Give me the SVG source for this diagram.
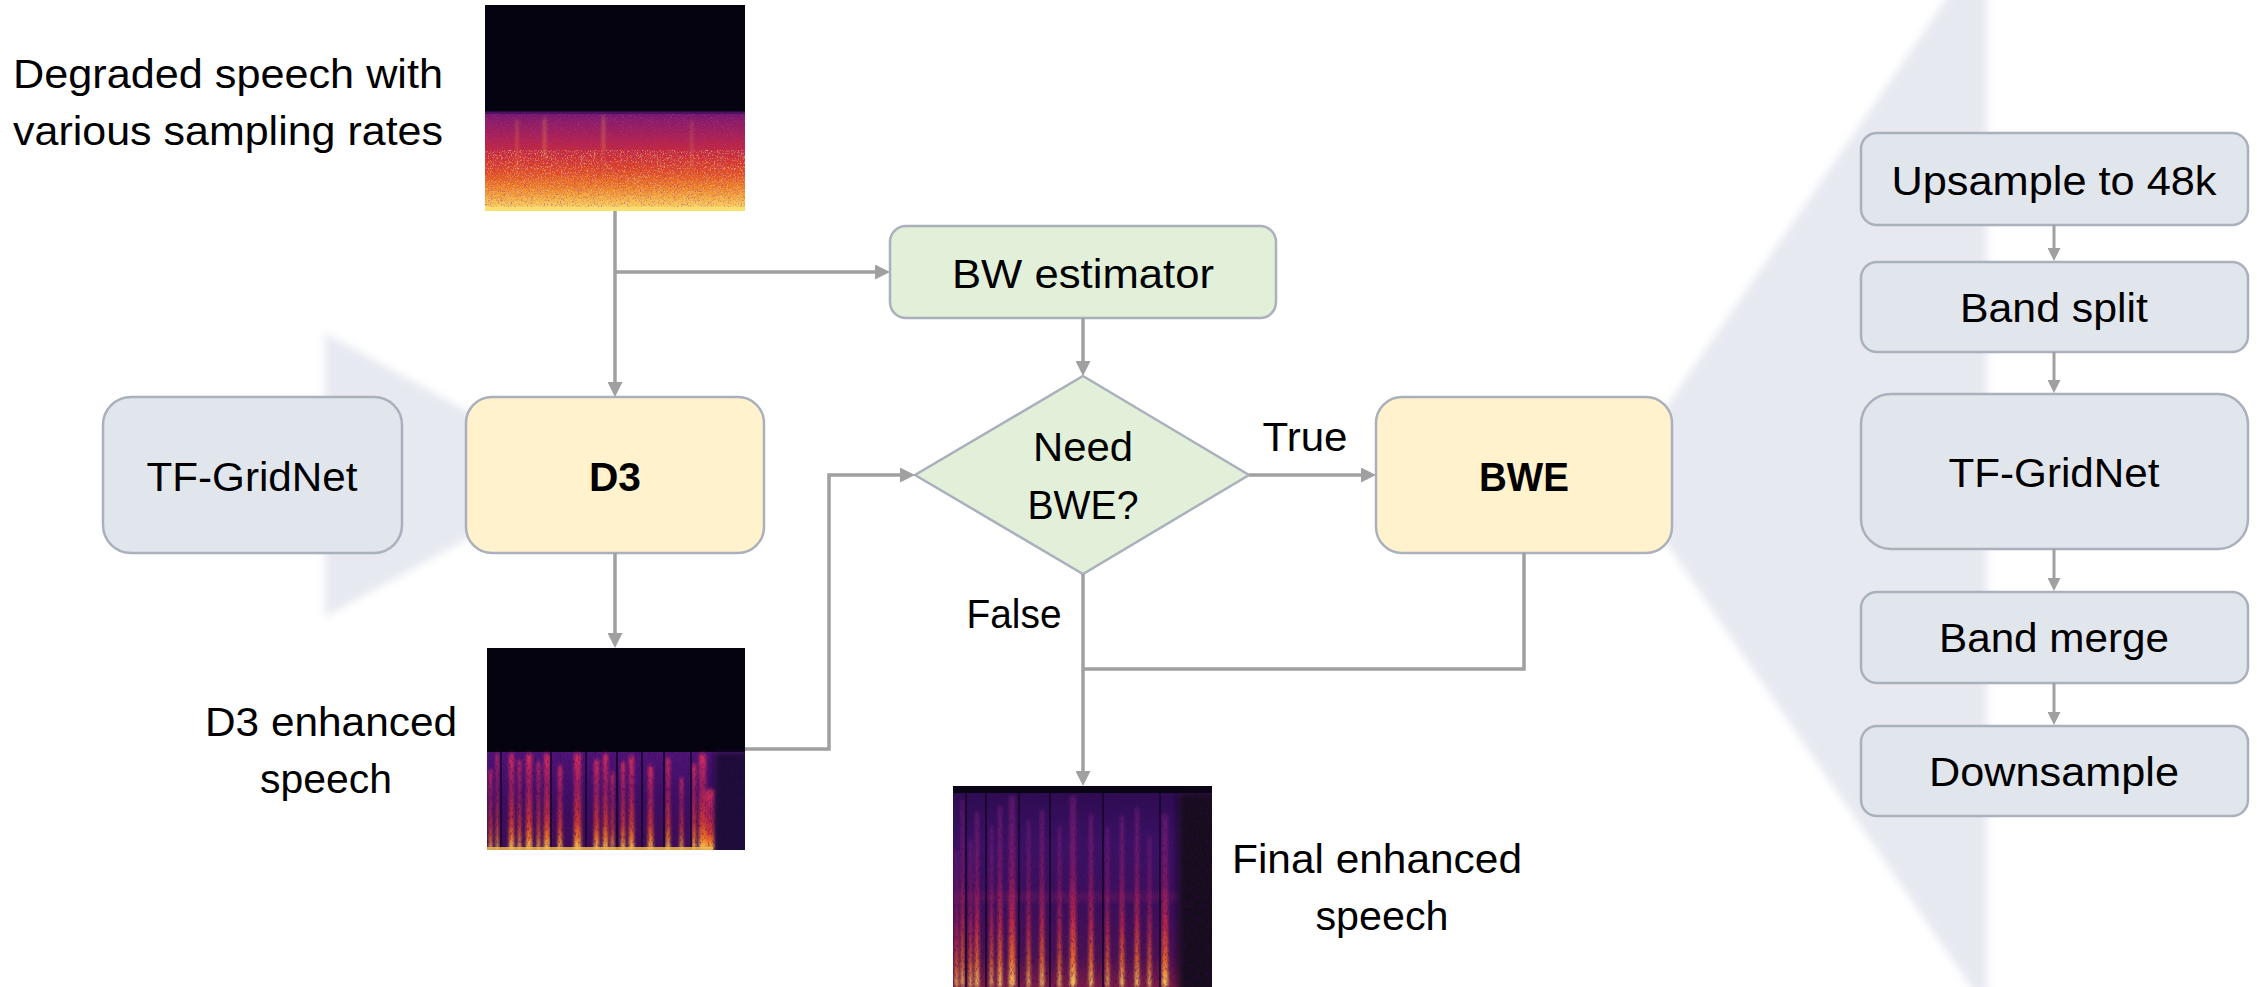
<svg xmlns="http://www.w3.org/2000/svg" width="2264" height="987" viewBox="0 0 2264 987">
  <style>
    .t { font-family: "Liberation Sans", Arial, sans-serif; font-size: 41px; fill: #000; }
    .b { font-weight: bold; }
    .conn { fill: none; stroke: #a0a0a0; stroke-width: 3.5; }
    .connS { fill: none; stroke: #a0a0a0; stroke-width: 3; }
    .grey { fill: #e1e5ec; stroke: #aab1bd; stroke-width: 2.5; }
    .gold { fill: #fff2cc; stroke: #aab1bd; stroke-width: 2.5; }
    .green { fill: #e2efd9; stroke: #aab1bd; stroke-width: 2.5; }
    .funnel { fill: #e6e9f0; }
  </style>
  <defs>
    <marker id="arr" markerUnits="userSpaceOnUse" viewBox="0 0 15 15" markerWidth="15" markerHeight="15" refX="9" refY="7.5" orient="auto">
      <path d="M0,0 L15,7.5 L0,15 z" fill="#a0a0a0"/>
    </marker>
    <marker id="arrS" markerUnits="userSpaceOnUse" viewBox="0 0 13 13" markerWidth="13" markerHeight="13" refX="8" refY="6.5" orient="auto">
      <path d="M0,0 L13,6.5 L0,13 z" fill="#a0a0a0"/>
    </marker>
    <clipPath id="cIn"><rect x="485" y="5" width="260" height="206"/></clipPath>
    <clipPath id="cD3"><rect x="487" y="648" width="258" height="202"/></clipPath>
    <clipPath id="cFin"><rect x="953" y="786" width="259" height="201"/></clipPath>
    <filter id="soft" x="-10%" y="-10%" width="120%" height="120%">
      <feGaussianBlur stdDeviation="4"/>
    </filter>
    <filter id="smear" x="-50%" y="-5%" width="200%" height="110%">
      <feGaussianBlur stdDeviation="1.4 2"/>
    </filter>
    <filter id="haze" x="-20%" y="-20%" width="140%" height="140%">
      <feGaussianBlur stdDeviation="3 3"/>
    </filter>
    <!-- speckle texture for spectrogram surfaces -->
    <filter id="grainDark" x="0" y="0" width="1" height="1">
      <feTurbulence type="fractalNoise" baseFrequency="1.3 0.7" numOctaves="2" seed="4"/>
      <feColorMatrix type="matrix" values="0 0 0 0 0.35  0 0 0 0 0.04  0 0 0 0 0.3  2.2 0 0 0 -1.15"/>
    </filter>
    <filter id="grainLight" x="0" y="0" width="1" height="1">
      <feTurbulence type="fractalNoise" baseFrequency="1.3 0.6" numOctaves="2" seed="11"/>
      <feColorMatrix type="matrix" values="0 0 0 0 1  0 0 0 0 0.78  0 0 0 0 0.35  2.4 0 0 0 -1.2"/>
    </filter>
    <filter id="grainSoft" x="0" y="0" width="1" height="1">
      <feTurbulence type="fractalNoise" baseFrequency="0.6 0.25" numOctaves="2" seed="21"/>
      <feColorMatrix type="matrix" values="0 0 0 0 0.05  0 0 0 0 0.0  0 0 0 0 0.1  1.6 0 0 0 -0.8"/>
    </filter>
    <linearGradient id="gTop" x1="0" y1="0" x2="0" y2="1">
      <stop offset="0" stop-color="#701672"/>
      <stop offset="0.1" stop-color="#8c1c66"/>
      <stop offset="0.28" stop-color="#b02250"/>
      <stop offset="0.45" stop-color="#cc2c34"/>
      <stop offset="0.6" stop-color="#e04822"/>
      <stop offset="0.75" stop-color="#ee7a22"/>
      <stop offset="0.9" stop-color="#f7b846"/>
      <stop offset="1" stop-color="#fde272"/>
    </linearGradient>
    <linearGradient id="gD3" x1="0" y1="0" x2="0" y2="1">
      <stop offset="0" stop-color="#4e1476"/>
      <stop offset="0.5" stop-color="#3c0f62"/>
      <stop offset="1" stop-color="#400d56"/>
    </linearGradient>
    <linearGradient id="gStreak" x1="0" y1="0" x2="0" y2="1">
      <stop offset="0" stop-color="#e0305a" stop-opacity="0.95"/>
      <stop offset="0.35" stop-color="#c0245a" stop-opacity="0.7"/>
      <stop offset="0.7" stop-color="#d83a30" stop-opacity="0.9"/>
      <stop offset="0.88" stop-color="#f07a24"/>
      <stop offset="1" stop-color="#fcd462"/>
    </linearGradient>
    <linearGradient id="gFinal" x1="0" y1="0" x2="0" y2="1">
      <stop offset="0" stop-color="#8a2082" stop-opacity="0.45"/>
      <stop offset="0.4" stop-color="#a82064" stop-opacity="0.6"/>
      <stop offset="0.65" stop-color="#cc2c46" stop-opacity="0.9"/>
      <stop offset="0.85" stop-color="#ea682a"/>
      <stop offset="1" stop-color="#fcd060"/>
    </linearGradient>
    <linearGradient id="gFinalBase" x1="0" y1="0" x2="0" y2="1">
      <stop offset="0" stop-color="#2c0c50"/>
      <stop offset="0.3" stop-color="#3a1264"/>
      <stop offset="0.6" stop-color="#3a105a"/>
      <stop offset="0.85" stop-color="#4a1252"/>
      <stop offset="1" stop-color="#7a1c44"/>
    </linearGradient>
  </defs>

  <!-- zoom funnels behind the model boxes -->
  <g id="funnels">
    <polygon class="funnel" points="325,333 480,418 480,532 325,617" filter="url(#soft)"/>
    <polygon class="funnel" points="1660,416 1987,-60 1987,1010 1660,534" filter="url(#soft)"/>
  </g>

  <!-- input spectrogram -->
  <g id="spec-input" clip-path="url(#cIn)">
    <rect x="485" y="5" width="260" height="206" fill="#050310"/>
    <rect x="485" y="112" width="260" height="99" fill="url(#gTop)"/>
    <rect x="485" y="112" width="260" height="99" filter="url(#grainDark)"/>
    <rect x="485" y="150" width="260" height="61" filter="url(#grainLight)" opacity="0.75"/>
    <g fill="#f6a848" opacity="0.35" filter="url(#smear)">
      <rect x="516" y="120" width="2" height="55"/>
      <rect x="543" y="118" width="3" height="40"/>
      <rect x="602" y="116" width="3" height="36"/>
      <rect x="691" y="120" width="1.5" height="60"/>
    </g>
    <rect x="485" y="207" width="260" height="4" fill="#fbe070"/>
    <rect x="485" y="111" width="260" height="3" fill="#3a0f58" opacity="0.7"/>
  </g>

  <!-- D3 output spectrogram -->
  <g id="spec-d3" clip-path="url(#cD3)">
    <rect x="487" y="648" width="258" height="202" fill="#050310"/>
    <rect x="487" y="752" width="258" height="98" fill="url(#gD3)"/>
    <rect x="714" y="752" width="40" height="110" fill="#1e0a38" filter="url(#haze)"/>
    <g fill="url(#gStreak)" filter="url(#smear)">
      <rect x="489" y="770" width="3" height="80"/>
      <rect x="496" y="754" width="2.5" height="96"/>
      <rect x="509" y="754" width="5" height="96"/>
      <rect x="518" y="760" width="3" height="90"/>
      <rect x="526" y="754" width="6" height="96"/>
      <rect x="537" y="762" width="3" height="88"/>
      <rect x="544" y="754" width="6" height="96"/>
      <rect x="558" y="766" width="4" height="84"/>
      <rect x="574" y="754" width="7" height="96"/>
      <rect x="594" y="760" width="5" height="90"/>
      <rect x="603" y="754" width="5" height="96"/>
      <rect x="611" y="772" width="3" height="78"/>
      <rect x="621" y="762" width="4" height="88"/>
      <rect x="629" y="756" width="5" height="94"/>
      <rect x="648" y="766" width="5" height="84"/>
      <rect x="666" y="758" width="4" height="92"/>
      <rect x="680" y="778" width="3" height="72"/>
      <rect x="692" y="764" width="4" height="86"/>
      <rect x="699" y="754" width="7" height="96"/>
      <rect x="706" y="790" width="8" height="60"/>
    </g>
    <g fill="#12062a" opacity="0.8">
      <rect x="500" y="752" width="2" height="98"/>
      <rect x="550" y="752" width="2" height="98"/>
      <rect x="585" y="752" width="2" height="98"/>
      <rect x="616" y="752" width="2" height="98"/>
      <rect x="641" y="752" width="2" height="98"/>
      <rect x="663" y="752" width="2" height="98"/>
      <rect x="690" y="752" width="2" height="98"/>
    </g>
    <rect x="487" y="752" width="258" height="98" filter="url(#grainSoft)"/>
    <rect x="487" y="847" width="226" height="3" fill="#f8c050" opacity="0.8"/>
  </g>

  <!-- final output spectrogram -->
  <g id="spec-final" clip-path="url(#cFin)">
    <rect x="953" y="786" width="259" height="201" fill="url(#gFinalBase)"/>
    <rect x="953" y="786" width="259" height="7" fill="#0a0516"/>
    <rect x="1178" y="793" width="44" height="200" fill="#16081f" filter="url(#haze)"/>
    <rect x="953" y="892" width="223" height="10" fill="#8a205c" opacity="0.3" filter="url(#haze)"/>
    <g fill="url(#gFinal)" filter="url(#smear)">
      <rect x="955" y="850" width="3" height="137"/>
      <rect x="961" y="800" width="3" height="187"/>
      <rect x="969" y="840" width="3" height="147"/>
      <rect x="975" y="812" width="4" height="175"/>
      <rect x="990" y="826" width="3" height="161"/>
      <rect x="998" y="806" width="4" height="181"/>
      <rect x="1009" y="796" width="6" height="191"/>
      <rect x="1027" y="820" width="3" height="167"/>
      <rect x="1040" y="810" width="4" height="177"/>
      <rect x="1058" y="826" width="3" height="161"/>
      <rect x="1070" y="796" width="6" height="191"/>
      <rect x="1089" y="814" width="4" height="173"/>
      <rect x="1106" y="826" width="3" height="161"/>
      <rect x="1120" y="816" width="4" height="171"/>
      <rect x="1135" y="808" width="4" height="179"/>
      <rect x="1148" y="836" width="3" height="151"/>
      <rect x="1162" y="814" width="6" height="173"/>
    </g>
    <g fill="#10051f" opacity="0.7">
      <rect x="965" y="793" width="2" height="194"/>
      <rect x="985" y="793" width="2" height="194"/>
      <rect x="1018" y="793" width="2" height="194"/>
      <rect x="1049" y="793" width="2" height="194"/>
      <rect x="1102" y="793" width="2" height="194"/>
      <rect x="1159" y="793" width="2" height="194"/>
    </g>
    <rect x="953" y="793" width="259" height="194" filter="url(#grainSoft)"/>
  </g>

  <!-- left process nodes -->
  <g id="tfgridnet-d3">
    <rect class="grey" x="103" y="397" width="299" height="156" rx="28"/>
    <text class="t" x="252" y="491" text-anchor="middle" textLength="211" lengthAdjust="spacingAndGlyphs">TF-GridNet</text>
  </g>
  <g id="d3">
    <rect class="gold" x="466" y="397" width="298" height="156" rx="26"/>
    <text class="t b" x="615" y="491" text-anchor="middle" textLength="52" lengthAdjust="spacingAndGlyphs">D3</text>
  </g>
  <g id="bw-estimator">
    <rect class="green" x="890" y="226" width="386" height="92" rx="16"/>
    <text class="t" x="1083" y="288" text-anchor="middle" textLength="262" lengthAdjust="spacingAndGlyphs">BW estimator</text>
  </g>
  <g id="need-bwe">
    <polygon class="green" points="1083,376 1249,475 1083,574 915,475"/>
    <text class="t" x="1083" y="461" text-anchor="middle" textLength="100" lengthAdjust="spacingAndGlyphs">Need</text>
    <text class="t" x="1083" y="519" text-anchor="middle" textLength="111" lengthAdjust="spacingAndGlyphs">BWE?</text>
  </g>
  <g id="bwe">
    <rect class="gold" x="1376" y="397" width="296" height="156" rx="26"/>
    <text class="t b" x="1524" y="491" text-anchor="middle" textLength="90" lengthAdjust="spacingAndGlyphs">BWE</text>
  </g>

  <!-- BWE internals -->
  <g id="upsample">
    <rect class="grey" x="1861" y="133" width="387" height="92" rx="16"/>
    <text class="t" x="2054" y="195" text-anchor="middle" textLength="325" lengthAdjust="spacingAndGlyphs">Upsample to 48k</text>
  </g>
  <g id="band-split">
    <rect class="grey" x="1861" y="262" width="387" height="90" rx="16"/>
    <text class="t" x="2054" y="322" text-anchor="middle" textLength="188" lengthAdjust="spacingAndGlyphs">Band split</text>
  </g>
  <g id="tfgridnet-bwe">
    <rect class="grey" x="1861" y="394" width="387" height="155" rx="30"/>
    <text class="t" x="2054" y="487" text-anchor="middle" textLength="211" lengthAdjust="spacingAndGlyphs">TF-GridNet</text>
  </g>
  <g id="band-merge">
    <rect class="grey" x="1861" y="592" width="387" height="91" rx="16"/>
    <text class="t" x="2054" y="652" text-anchor="middle" textLength="230" lengthAdjust="spacingAndGlyphs">Band merge</text>
  </g>
  <g id="downsample">
    <rect class="grey" x="1861" y="726" width="387" height="90" rx="16"/>
    <text class="t" x="2054" y="786" text-anchor="middle" textLength="250" lengthAdjust="spacingAndGlyphs">Downsample</text>
  </g>

  <!-- captions and branch labels -->
  <g id="labels">
    <text class="t" x="228" y="88" text-anchor="middle" textLength="430" lengthAdjust="spacingAndGlyphs">Degraded speech with</text>
    <text class="t" x="228" y="145" text-anchor="middle" textLength="430" lengthAdjust="spacingAndGlyphs">various sampling rates</text>
    <text class="t" x="331" y="736" text-anchor="middle" textLength="252" lengthAdjust="spacingAndGlyphs">D3 enhanced</text>
    <text class="t" x="326" y="793" text-anchor="middle" textLength="132" lengthAdjust="spacingAndGlyphs">speech</text>
    <text class="t" x="1377" y="873" text-anchor="middle" textLength="290" lengthAdjust="spacingAndGlyphs">Final enhanced</text>
    <text class="t" x="1382" y="930" text-anchor="middle" textLength="133" lengthAdjust="spacingAndGlyphs">speech</text>
    <text class="t" x="1305" y="451" text-anchor="middle" textLength="85" lengthAdjust="spacingAndGlyphs">True</text>
    <text class="t" x="1014" y="628" text-anchor="middle" textLength="95" lengthAdjust="spacingAndGlyphs">False</text>
  </g>

  <!-- connectors -->
  <g id="connectors">
    <path class="conn" d="M615,211 V391" marker-end="url(#arr)"/>
    <path class="conn" d="M615,272 H884" marker-end="url(#arr)"/>
    <path class="conn" d="M1083,318 V370" marker-end="url(#arr)"/>
    <path class="conn" d="M615,553 V642" marker-end="url(#arr)"/>
    <path class="conn" d="M745,749 H829 V475 H909" marker-end="url(#arr)"/>
    <path class="conn" d="M1249,475 H1370" marker-end="url(#arr)"/>
    <path class="conn" d="M1524,553 V669 H1083"/>
    <path class="conn" d="M1083,574 V780" marker-end="url(#arr)"/>
    <path class="connS" d="M2054,225 V256" marker-end="url(#arrS)"/>
    <path class="connS" d="M2054,352 V388" marker-end="url(#arrS)"/>
    <path class="connS" d="M2054,549 V586" marker-end="url(#arrS)"/>
    <path class="connS" d="M2054,683 V720" marker-end="url(#arrS)"/>
  </g>
</svg>
